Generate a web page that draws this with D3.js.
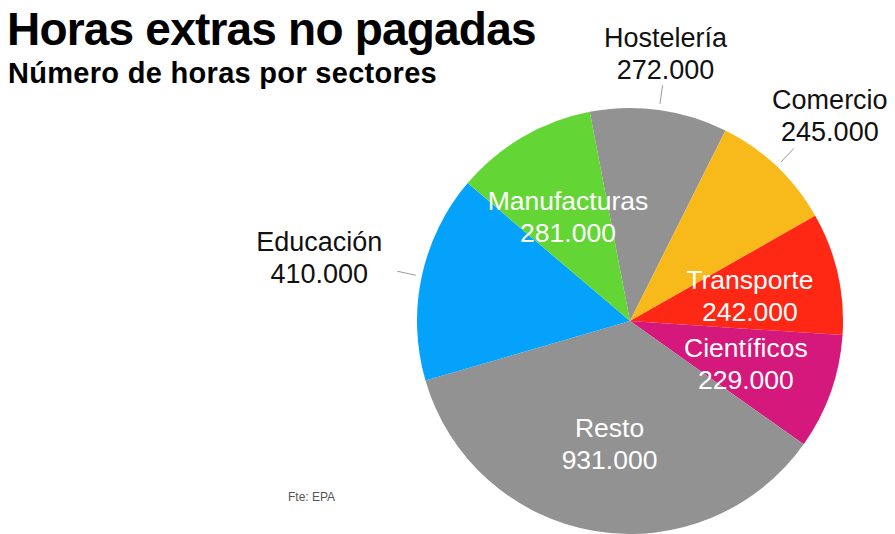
<!DOCTYPE html>
<html>
<head>
<meta charset="utf-8">
<script src="https://cdn.jsdelivr.net/npm/d3@7"></script>
<style>
  body { margin: 0; background: #fff; }
  text { font-family: "Liberation Sans", Arial, Helvetica, sans-serif; }
</style>
</head>
<body>
<svg width="895" height="534"></svg>
<script>
// sectors, clockwise from the top
const sectors = ["Hostelería", "Comercio", "Transporte", "Científicos", "Resto", "Educación", "Manufacturas"];
const hours = [272000, 245000, 242000, 229000, 931000, 410000, 281000];
const colors = ["#929292", "#f8b91b", "#fe2815", "#d5187b", "#929292", "#04a2fb", "#63d636"];
// which labels sit outside the pie
const outside = [true, true, false, false, false, true, false];

const svg = d3.select("svg");
const cx = 630, cy = 321, radius = 213;

svg.append("text")
  .attr("x", 7).attr("y", 45)
  .style("font-size", "46px").style("font-weight", "bold")
  .style("letter-spacing", "-0.8px")
  .text("Horas extras no pagadas");

svg.append("text")
  .attr("x", 8).attr("y", 83)
  .style("font-size", "29px").style("font-weight", "bold")
  .style("letter-spacing", "0.3px")
  .text("Número de horas por sectores");

svg.append("text")
  .attr("x", 288).attr("y", 501)
  .style("font-size", "12px").style("fill", "#555")
  .text("Fte: EPA");

const fmt = v => d3.format(",")(v).replace(/,/g, ".");

const start = -10.9 * Math.PI / 180;
const pie = d3.pie().sort(null).startAngle(start).endAngle(start + 2 * Math.PI);
const arcs = pie(hours);

const arc = d3.arc().innerRadius(0).outerRadius(radius);
const labelArc = d3.arc().innerRadius(123).outerRadius(123);
const lineIn = d3.arc().innerRadius(219).outerRadius(219);
const lineOut = d3.arc().innerRadius(238).outerRadius(238);

const g = svg.append("g").attr("transform", `translate(${cx},${cy})`);

g.selectAll("path.slice")
  .data(arcs)
  .enter().append("path")
    .attr("class", "slice")
    .attr("d", arc)
    .attr("fill", (d, i) => colors[i]);

// inside labels
const inner = g.selectAll("text.inner")
  .data(arcs.filter((d, i) => !outside[i]))
  .enter().append("text")
    .attr("class", "inner")
    .attr("text-anchor", "middle")
    .attr("transform", d => `translate(${labelArc.centroid(d)})`)
    .style("font-size", "26.5px").style("fill", "#fff");
inner.append("tspan").attr("x", 0).attr("y", -5).text(d => sectors[d.index]);
inner.append("tspan").attr("x", 0).attr("y", 27).text(d => fmt(d.value));

// outside labels with short leader lines
const outerData = arcs.filter((d, i) => outside[i]);
g.selectAll("line.leader")
  .data(outerData)
  .enter().append("line")
    .attr("class", "leader")
    .attr("x1", d => lineIn.centroid(d)[0]).attr("y1", d => lineIn.centroid(d)[1])
    .attr("x2", d => lineOut.centroid(d)[0]).attr("y2", d => lineOut.centroid(d)[1])
    .attr("stroke", "#999").attr("stroke-width", 1);

// offsets of the label block from the end of each leader
const offsets = { "Hostelería": [3, -38], "Comercio": [36, -39], "Educación": [-78, -20] };
const outer = g.selectAll("text.outer")
  .data(outerData)
  .enter().append("text")
    .attr("class", "outer")
    .attr("text-anchor", "middle")
    .attr("transform", d => {
      const p = lineOut.centroid(d), o = offsets[sectors[d.index]];
      return `translate(${p[0] + o[0]},${p[1] + o[1]})`;
    })
    .style("font-size", "27px").style("fill", "#111");
outer.append("tspan").attr("x", 0).attr("y", 0).text(d => sectors[d.index]);
outer.append("tspan").attr("x", 0).attr("y", 32).text(d => fmt(d.value));
</script>
</body>
</html>
